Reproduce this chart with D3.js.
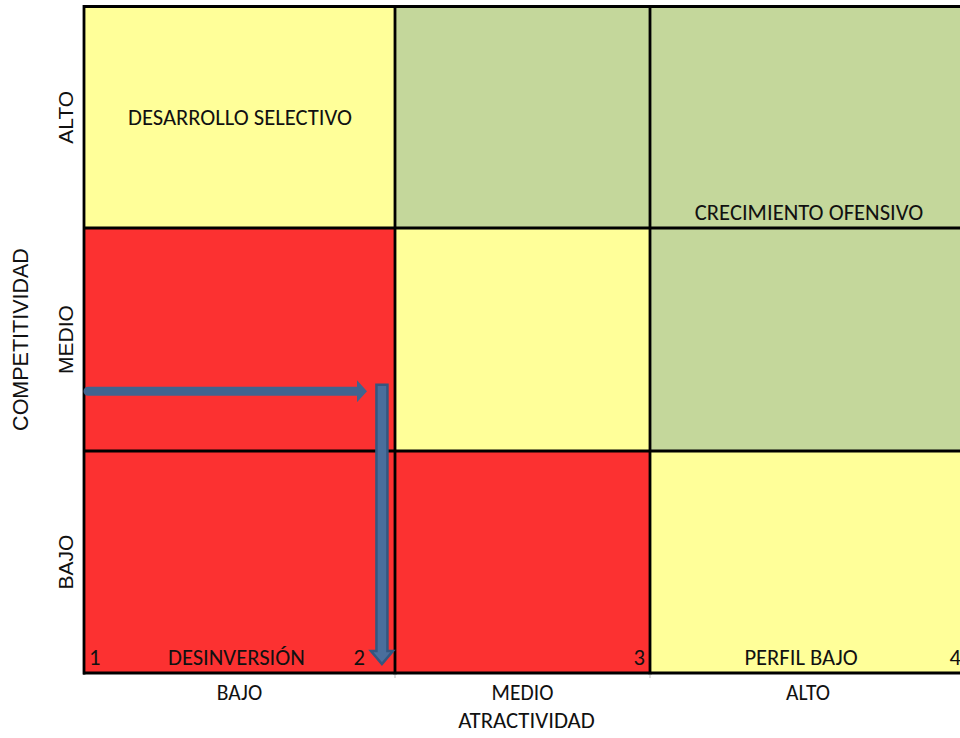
<!DOCTYPE html>
<html>
<head>
<meta charset="utf-8">
<script src="https://cdn.jsdelivr.net/npm/d3@7"></script>
<style>
  html, body { margin: 0; padding: 0; background: #ffffff; }
  svg { display: block; }
</style>
</head>
<body>
<svg id="chart" width="960" height="738"></svg>
<script>
// Attractiveness (columns) and competitiveness (rows) levels
const attractLevels = ["BAJO", "MEDIO", "ALTO"];
const competeLevels = ["BAJO", "MEDIO", "ALTO"];

// Column boundary values along the attractiveness axis
const attractBounds = [1, 2, 3, 4];
// Row boundary values along the competitiveness axis
const competeBounds = [0, 1, 2, 3];

// Zone of each cell, row by row from ALTO (top) to BAJO (bottom)
const zoneRows = [
  ["amarillo", "verde", "verde"],      // ALTO
  ["rojo", "amarillo", "verde"],       // MEDIO
  ["rojo", "rojo", "amarillo"]         // BAJO
];
const zoneColors = { rojo: "#FC3131", amarillo: "#FFFF99", verde: "#C4D79B" };

// Strategy names written inside the matrix
const strategyNames = ["DESARROLLO SELECTIVO", "CRECIMIENTO OFENSIVO", "DESINVERSIÓN", "PERFIL BAJO"];
// Corner numbers along the bottom edge
const cornerNumbers = ["1", "2", "3", "4"];

// Position of the evaluated unit: attractiveness 1.96, competitiveness 1.27
const unitAttract = 1.958;
const unitCompete = 1.268;
const horizArrowEnd = 1.91;      // horizontal arrow reaches this attractiveness
const vertArrowTop = 1.297;      // vertical arrow starts at this competitiveness
const vertArrowEnd = 0.04;       // and points down to this one

const svg = d3.select("#chart");

const x = d3.scaleLinear().domain(attractBounds).range([84, 395, 650, 966]);
const y = d3.scaleLinear().domain(competeBounds).range([673, 451, 228, 6.5]);

const cellFont = "Carlito, Lato, 'Open Sans', sans-serif";
const axisFont = "'Liberation Sans', Arial, sans-serif";

// Cells
const cells = [];
zoneRows.forEach((row, ri) => {
  row.forEach((zone, ci) => {
    const rowVal = competeBounds.length - 2 - ri; // 2 = ALTO, 0 = BAJO
    cells.push({ c0: attractBounds[ci], c1: attractBounds[ci + 1], r0: competeBounds[rowVal], r1: competeBounds[rowVal + 1], zone });
  });
});

svg.append("g").selectAll("rect").data(cells).join("rect")
  .attr("x", d => x(d.c0))
  .attr("y", d => y(d.r1))
  .attr("width", d => x(d.c1) - x(d.c0))
  .attr("height", d => y(d.r0) - y(d.r1))
  .attr("fill", d => zoneColors[d.zone]);

// Grid lines
const grid = svg.append("g").attr("stroke", "#000").attr("stroke-width", 2.8);
attractBounds.slice(0, 3).forEach(v => {
  grid.append("line").attr("x1", x(v)).attr("x2", x(v)).attr("y1", y(3) - 1.5).attr("y2", y(0) + 1.5);
});
competeBounds.forEach(v => {
  grid.append("line").attr("x1", x(1) - 1).attr("x2", x(4)).attr("y1", y(v)).attr("y2", y(v))
    .attr("stroke-width", v === 3 ? 3.2 : 2.8);
});

// Small ticks under the bottom edge
svg.append("g").selectAll("line").data(attractBounds.slice(1, 3)).join("line")
  .attr("x1", d => x(d)).attr("x2", d => x(d))
  .attr("y1", y(0) + 1.5).attr("y2", y(0) + 5)
  .attr("stroke", "#bbb").attr("stroke-width", 1);

// Strategy names
const labels = svg.append("g").attr("font-family", cellFont).attr("font-size", 22.6).attr("fill", "#111");
labels.append("text").attr("x", x(1) + 44).attr("y", y(2.5) + 8).text(strategyNames[0]);
labels.append("text").attr("x", (x(3) + x(4)) / 2 + 1).attr("y", y(2) - 8)
  .attr("text-anchor", "middle").text(strategyNames[1]);
labels.append("text").attr("x", x(1) + 84).attr("y", y(0) - 8).text(strategyNames[2]);
labels.append("text").attr("x", (x(3) + x(4)) / 2 - 7).attr("y", y(0) - 8)
  .attr("text-anchor", "middle").text(strategyNames[3]);

// Corner numbers
labels.append("text").attr("x", x(1) + 5).attr("y", y(0) - 8).text(cornerNumbers[0]);
labels.append("text").attr("x", x(2) - 30).attr("y", y(0) - 8).attr("text-anchor", "end").text(cornerNumbers[1]);
labels.append("text").attr("x", x(3) - 5).attr("y", y(0) - 8).attr("text-anchor", "end").text(cornerNumbers[2]);
labels.append("text").attr("x", x(4) - 5).attr("y", y(0) - 8).attr("text-anchor", "end").text(cornerNumbers[3]);

// Bottom axis: attractiveness levels
const xAxis = svg.append("g").attr("font-family", cellFont).attr("font-size", 21.5).attr("fill", "#111");
xAxis.selectAll("text").data(attractLevels).join("text")
  .attr("x", (d, i) => (x(attractBounds[i]) + x(attractBounds[i + 1])) / 2)
  .attr("y", y(0) + 27)
  .attr("text-anchor", "middle")
  .text(d => d);
svg.append("text").attr("font-family", cellFont).attr("font-size", 22.8).attr("fill", "#111")
  .attr("x", (x(2) + x(3)) / 2 + 4).attr("y", y(0) + 55)
  .attr("text-anchor", "middle").text("ATRACTIVIDAD");

// Left axis: competitiveness levels (rotated)
const yAxis = svg.append("g").attr("font-family", axisFont).attr("font-size", 21).attr("fill", "#111");
yAxis.selectAll("text").data(competeLevels).join("text")
  .attr("transform", (d, i) => `translate(73,${(y(competeBounds[i]) + y(competeBounds[i + 1])) / 2}) rotate(-90)`)
  .attr("text-anchor", "middle")
  .text(d => d);
svg.append("text").attr("font-family", axisFont).attr("font-size", 21.5).attr("fill", "#111")
  .attr("transform", `translate(28,${y(1.5)}) rotate(-90)`)
  .attr("text-anchor", "middle").text("COMPETITIVIDAD");

// Arrows locating the unit
const arrowFill = "#41648F";
const arrowStroke = "#34567F";

// Horizontal arrow along the competitiveness level
const hy = y(unitCompete);
const hx0 = x(1), hx1 = x(horizArrowEnd);
const hPath = d3.path();
hPath.moveTo(hx0 + 4, hy - 4.5);
hPath.lineTo(hx1 - 10, hy - 4.5);
hPath.lineTo(hx1 - 10, hy - 11);
hPath.lineTo(hx1, hy);
hPath.lineTo(hx1 - 10, hy + 11);
hPath.lineTo(hx1 - 10, hy + 4.5);
hPath.lineTo(hx0 + 4, hy + 4.5);
hPath.arc(hx0 + 4, hy, 4.5, Math.PI / 2, Math.PI * 1.5);
hPath.closePath();
svg.append("path").attr("d", hPath.toString()).attr("fill", arrowFill);

// Vertical arrow dropping to the attractiveness level
const vx = x(unitAttract);
const vy0 = y(vertArrowTop), vy1 = y(vertArrowEnd);
const vPath = d3.path();
vPath.moveTo(vx - 5.5, vy0);
vPath.lineTo(vx + 5.5, vy0);
vPath.lineTo(vx + 5.5, vy1 - 13);
vPath.lineTo(vx + 11, vy1 - 13);
vPath.lineTo(vx, vy1);
vPath.lineTo(vx - 11, vy1 - 13);
vPath.lineTo(vx - 5.5, vy1 - 13);
vPath.closePath();
svg.append("path").attr("d", vPath.toString())
  .attr("fill", "#4A6E9C").attr("stroke", arrowStroke).attr("stroke-width", 2.5)
  .attr("stroke-linejoin", "miter");
</script>
</body>
</html>
